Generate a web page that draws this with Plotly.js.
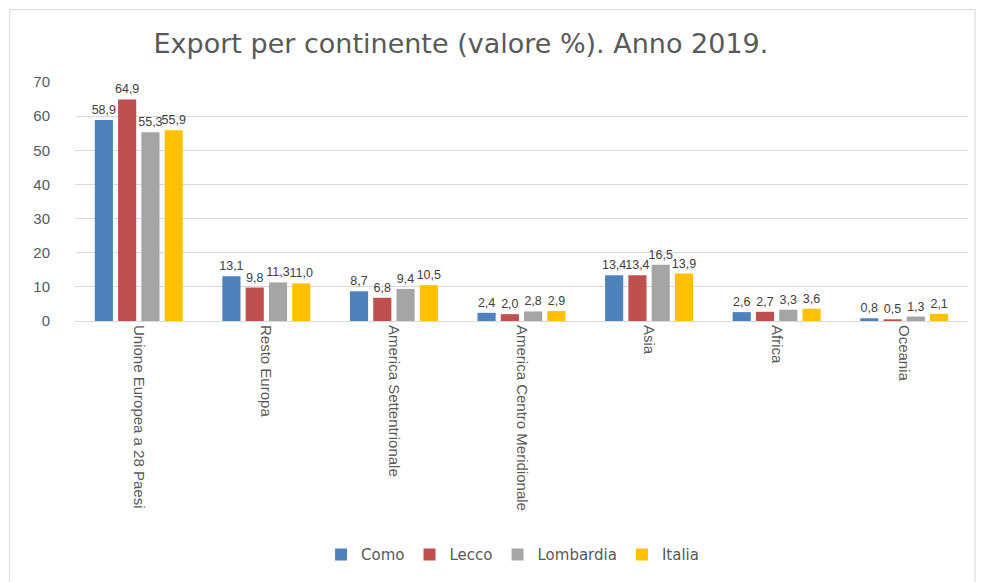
<!DOCTYPE html>
<html>
<head>
<meta charset="utf-8">
<script src="https://cdn.plot.ly/plotly-3.0.1.min.js"></script>
<style>
  body { margin: 0; background: #fff; }
  #chart { width: 985px; height: 582px; }
</style>
</head>
<body>
<div id="chart"></div>
<script>
const continenti = ['Unione Europea a 28 Paesi', 'Resto Europa', 'America Settentrionale',
    'America Centro Meridionale', 'Asia', 'Africa', 'Oceania'];
const como = [58.9, 13.1, 8.7, 2.4, 13.4, 2.6, 0.8];
const lecco = [64.9, 9.8, 6.8, 2.0, 13.4, 2.7, 0.5];
const lombardia = [55.3, 11.3, 9.4, 2.8, 16.5, 3.3, 1.3];
const italia = [55.9, 11.0, 10.5, 2.9, 13.9, 3.6, 2.1];

const seriesNames = ['Como', 'Lecco', 'Lombardia', 'Italia'];
const seriesValues = [como, lecco, lombardia, italia];
const colors = ['#4F81BD', '#C0504D', '#A5A5A5', '#FFC000'];

const font = 'Liberation Sans, Arial, sans-serif';
const wide = 'DejaVu Sans, sans-serif';

const traces = seriesNames.map((name, i) => ({
    type: 'bar',
    name: name,
    x: continenti,
    y: seriesValues[i],
    marker: { color: colors[i] },
    texttemplate: '%{y:.1f}',
    textposition: 'outside',
    cliponaxis: false,
    textfont: { family: font, size: 12.5, color: '#404040' },
    hoverinfo: 'x+y+name'
}));

const layout = {
    width: 985,
    height: 582,
    separators: ',.',
    paper_bgcolor: '#fff',
    plot_bgcolor: '#fff',
    font: { family: font, color: '#595959', size: 14 },
    uniformtext: { mode: 'show', minsize: 12.5 },
    title: {
        text: 'Export per continente (valore %). Anno 2019.',
        font: { family: wide, size: 27, color: '#595959' },
        x: 0.468, xanchor: 'center',
        y: 0.925, yanchor: 'middle'
    },
    margin: { l: 75, r: 17, t: 82, b: 260 },
    bargap: 0.27,
    bargroupgap: 0.22,
    xaxis: {
        automargin: false,
        tickangle: 90,
        showgrid: false,
        showline: true,
        linecolor: '#d9d9d9',
        linewidth: 1,
        ticks: '',
        tickfont: { family: font, size: 15, color: '#595959' }
    },
    yaxis: {
        automargin: false,
        range: [0, 70],
        dtick: 10,
        showgrid: true,
        gridcolor: '#d9d9d9',
        gridwidth: 1,
        zeroline: false,
        showline: false,
        ticks: '',
        ticklabelstandoff: 24,
        tickfont: { family: font, size: 15, color: '#595959' }
    },
    legend: {
        orientation: 'h',
        x: 0.49, xanchor: 'center',
        y: -0.97, yanchor: 'middle',
        font: { family: wide, size: 15, color: '#595959' },
        itemwidth: 20,
        traceorder: 'normal'
    },
    shapes: [{
        type: 'rect', xref: 'paper', yref: 'paper',
        x0: -0.073, x1: 1.008, y0: -1.2, y1: 1.303,
        line: { color: '#d9d9d9', width: 1 }
    }]
};

Plotly.newPlot('chart', traces, layout, { displayModeBar: false, staticPlot: true });
</script>
</body>
</html>
